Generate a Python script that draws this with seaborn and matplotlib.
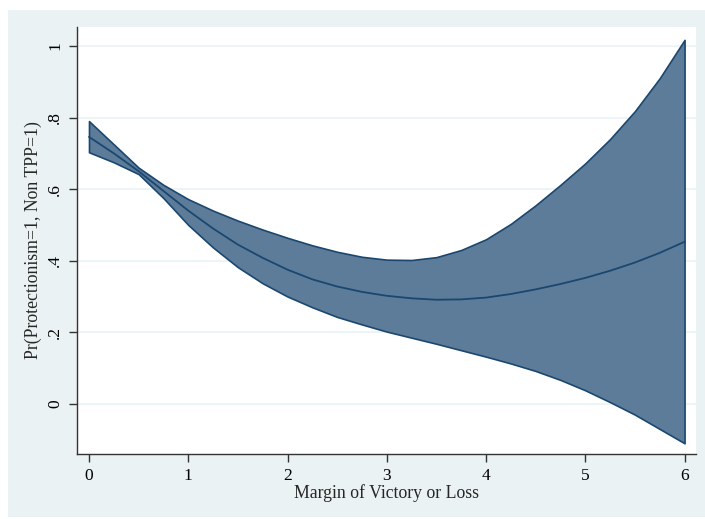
import matplotlib
matplotlib.use("Agg")
import matplotlib.pyplot as plt
import numpy as np
import pandas as pd
import seaborn as sns

# margin values and predicted probabilities
margin = [0, 0.25, 0.5, 0.75, 1, 1.25, 1.5, 1.75, 2, 2.25, 2.5, 2.75, 3,
          3.25, 3.5, 3.75, 4, 4.25, 4.5, 4.75, 5, 5.25, 5.5, 5.75, 6]
pr_mean = [0.746, 0.700, 0.650, 0.595, 0.540, 0.490, 0.445, 0.408, 0.375,
           0.348, 0.328, 0.313, 0.302, 0.295, 0.291, 0.292, 0.297, 0.307,
           0.320, 0.335, 0.352, 0.372, 0.395, 0.422, 0.453]
pr_upper = [0.790, 0.725, 0.660, 0.612, 0.572, 0.540, 0.512, 0.487, 0.464,
            0.443, 0.425, 0.411, 0.403, 0.402, 0.410, 0.430, 0.460, 0.503,
            0.555, 0.612, 0.672, 0.740, 0.818, 0.910, 1.017]
pr_lower = [0.703, 0.675, 0.642, 0.575, 0.500, 0.437, 0.382, 0.337, 0.300,
            0.270, 0.243, 0.222, 0.202, 0.185, 0.168, 0.150, 0.132, 0.113,
            0.092, 0.067, 0.038, 0.005, -0.030, -0.070, -0.110]

y_ticks = [0, 0.2, 0.4, 0.6, 0.8, 1]
y_tick_labels = ["0", ".2", ".4", ".6", ".8", "1"]
x_ticks = [0, 1, 2, 3, 4, 5, 6]

df = pd.DataFrame({"margin": margin, "mean": pr_mean,
                   "upper": pr_upper, "lower": pr_lower})

BG = "#eaf2f3"
NAVY = "#1a476f"
FILL = "#5d7c99"

sns.set_theme(style="white")
plt.rcParams["font.family"] = ["Liberation Serif", "DejaVu Serif"]

fig = plt.figure(figsize=(7.05, 5.19), dpi=100, facecolor="white")
# Stata-style graph region (white strip left at the very top)
fig.patches.append(plt.Rectangle((0.011, 0.004), 0.989, 0.977, transform=fig.transFigure,
                                 facecolor=BG, edgecolor="none", zorder=-10))

ax = fig.add_axes([0.1092, 0.1252, 0.8780, 0.8228])
ax.set_facecolor("white")

for yt in y_ticks:
    ax.axhline(yt, color=BG, lw=1.2, zorder=0)

ax.fill_between(df["margin"], df["lower"], df["upper"], facecolor=FILL,
                edgecolor=NAVY, linewidth=1.2, zorder=2)
sns.lineplot(data=df, x="margin", y="mean", color=NAVY, linewidth=1.3,
             ax=ax, zorder=3)

ax.set_xlim(-0.121, 6.115)
ax.set_ylim(-0.14, 1.053)
ax.set_xticks(x_ticks)
ax.set_xticklabels([str(t) for t in x_ticks])
ax.set_yticks(y_ticks)
ax.set_yticklabels(y_tick_labels, rotation=90, va="center")

for side in ["top", "right"]:
    ax.spines[side].set_visible(False)
for side in ["left", "bottom"]:
    ax.spines[side].set_color("#333333")
    ax.spines[side].set_linewidth(1.0)

ax.tick_params(axis="both", direction="out", length=6, width=1,
               color="#333333", labelsize=12.5, pad=4, labelcolor="black")
ax.tick_params(axis="both", bottom=True, left=True)

ax.set_xlabel("Margin of Victory or Loss", fontsize=12.8, labelpad=0.5)
ax.set_ylabel("Pr(Protectionism=1, Non TPP=1)", fontsize=12.8, labelpad=4)

fig.savefig("out.png", dpi=100, facecolor=fig.get_facecolor())
plt.close(fig)
